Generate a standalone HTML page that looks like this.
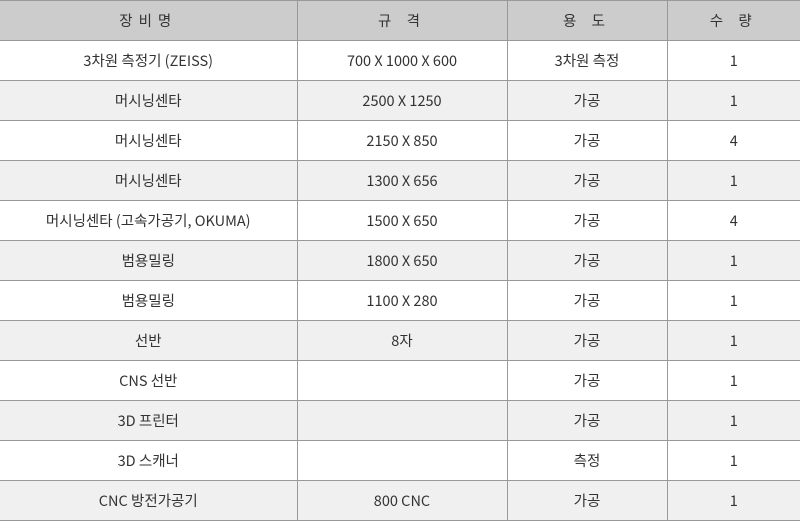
<!DOCTYPE html>
<html><head><meta charset="utf-8"><style>
html,body{margin:0;padding:0;background:#fff;width:800px;height:521px;overflow:hidden}
table{border-collapse:collapse;width:800px;table-layout:fixed;font-family:"Noto Sans CJK KR","Liberation Sans",sans-serif;font-size:14.5px;color:#333}
td,th{height:37px;padding:2px 0 0 0;text-align:center;border-top:1px solid #999;border-bottom:1px solid #999;border-left:1px solid #999;font-weight:normal;line-height:1}
td:first-child,th:first-child{border-left:none}
th{background:#ccc;letter-spacing:6px}
tr:nth-child(odd) td{background:#f0f0f0}
</style></head><body>
<table>
<colgroup><col style="width:297px"><col style="width:210px"><col style="width:160px"><col style="width:133px"></colgroup>
<tr><th>장비명</th><th>규 격</th><th>용 도</th><th>수 량</th></tr>
<tr><td>3차원 측정기 (ZEISS)</td><td>700 X 1000 X 600</td><td>3차원 측정</td><td>1</td></tr>
<tr><td>머시닝센타</td><td>2500 X 1250</td><td>가공</td><td>1</td></tr>
<tr><td>머시닝센타</td><td>2150 X 850</td><td>가공</td><td>4</td></tr>
<tr><td>머시닝센타</td><td>1300 X 656</td><td>가공</td><td>1</td></tr>
<tr><td>머시닝센타 (고속가공기, OKUMA)</td><td>1500 X 650</td><td>가공</td><td>4</td></tr>
<tr><td>범용밀링</td><td>1800 X 650</td><td>가공</td><td>1</td></tr>
<tr><td>범용밀링</td><td>1100 X 280</td><td>가공</td><td>1</td></tr>
<tr><td>선반</td><td>8자</td><td>가공</td><td>1</td></tr>
<tr><td>CNS 선반</td><td></td><td>가공</td><td>1</td></tr>
<tr><td>3D 프린터</td><td></td><td>가공</td><td>1</td></tr>
<tr><td>3D 스캐너</td><td></td><td>측정</td><td>1</td></tr>
<tr><td>CNC 방전가공기</td><td>800 CNC</td><td>가공</td><td>1</td></tr>
</table>
</body></html>
